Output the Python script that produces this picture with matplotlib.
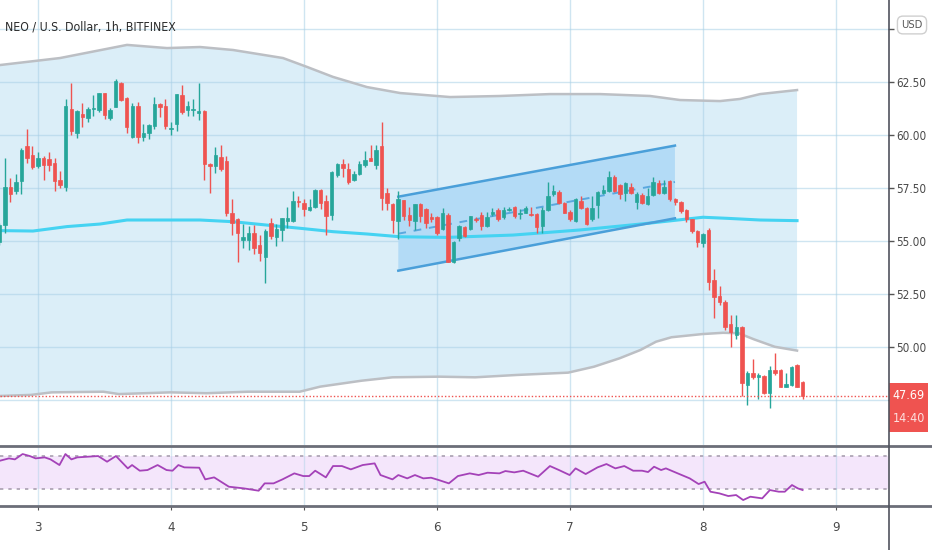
import numpy as np
import matplotlib
matplotlib.use('Agg')
import matplotlib.pyplot as plt
from matplotlib.patches import Rectangle
from matplotlib.lines import Line2D
from matplotlib import transforms

plt.rcParams['font.family'] = ['DejaVu Sans']
plt.rcParams['font.stretch'] = 'condensed'

# hourly candles, first one is 7 hours before day 3 00:00
opens = [
    54.95, 55.75, 57.56, 57.36, 57.83, 59.50, 59.06, 58.54, 58.90, 58.87,
    58.69, 57.88, 57.56, 61.21, 60.11, 61.00, 60.79, 61.22, 61.18, 61.97,
    60.80, 61.33, 62.47, 61.73, 59.92, 61.37, 59.89, 60.11, 60.42, 61.46,
    61.37, 60.28, 60.50, 61.90, 61.18, 61.19, 61.02, 61.15, 58.63, 58.55,
    58.98, 58.77, 56.31, 56.02, 55.05, 55.05, 55.36, 54.81, 54.23, 55.85,
    55.20, 55.52, 55.96, 55.96, 56.88, 56.81, 56.46, 56.62, 57.40, 56.90,
    56.23, 58.11, 58.62, 58.38, 57.88, 58.16, 58.58, 58.90, 58.58, 59.50,
    57.25, 56.75, 55.96, 56.93, 56.23, 55.96, 56.75, 56.50, 56.12, 56.15,
    55.55, 56.23, 54.02, 55.13, 55.65, 55.55, 56.05, 56.23, 55.71, 56.27,
    56.46, 56.12, 56.45, 56.59, 56.28, 56.34, 56.28, 56.27, 55.71, 56.46,
    57.20, 57.33, 56.81, 56.38, 55.92, 56.90, 56.54, 56.02, 56.70, 57.28,
    57.37, 58.04, 57.64, 57.28, 57.53, 56.85, 57.17, 56.74, 57.17, 57.75,
    57.28, 57.84, 57.00, 56.85, 56.46, 56.02, 55.49, 54.92, 55.52, 53.16,
    52.40, 52.14, 51.08, 50.57, 50.96, 48.21, 48.76, 48.57, 48.63, 47.84,
    48.91, 48.91, 48.13, 48.21, 49.16, 48.37]
closes = [
    55.75, 57.56, 57.20, 57.78, 59.30, 58.93, 58.50, 58.91, 58.60, 58.60,
    57.83, 57.64, 61.37, 60.19, 61.15, 60.86, 61.21, 61.28, 61.97, 60.94,
    61.20, 62.56, 61.65, 60.37, 61.37, 59.92, 60.11, 60.47, 61.46, 61.34,
    60.42, 60.33, 61.93, 61.10, 61.37, 61.23, 61.15, 58.63, 58.54, 59.06,
    58.40, 56.31, 55.86, 55.39, 55.20, 55.36, 54.65, 54.45, 55.49, 55.25,
    55.55, 56.10, 56.10, 56.90, 56.82, 56.50, 56.59, 57.40, 56.78, 56.18,
    58.27, 58.62, 58.43, 57.80, 58.16, 58.62, 58.82, 58.79, 59.29, 57.02,
    56.78, 55.99, 56.97, 56.18, 55.99, 56.75, 56.18, 55.87, 56.05, 55.39,
    56.34, 54.02, 54.97, 55.71, 55.24, 56.18, 55.97, 55.71, 56.15, 56.38,
    56.02, 56.46, 56.52, 56.18, 56.32, 56.54, 56.22, 55.65, 56.46, 57.13,
    57.35, 56.81, 56.34, 56.02, 57.00, 56.54, 55.80, 56.54, 57.29, 57.40,
    58.04, 57.37, 57.22, 57.72, 57.28, 57.22, 56.81, 57.12, 57.80, 57.28,
    57.56, 56.97, 56.85, 56.42, 56.02, 55.49, 54.97, 55.33, 53.08, 52.37,
    52.14, 50.96, 50.72, 50.93, 48.29, 48.79, 48.57, 48.68, 47.84, 48.91,
    48.79, 48.13, 48.25, 49.07, 48.13, 47.69]
highs = [
    55.85, 58.90, 57.97, 58.16, 59.40, 60.27, 59.50, 59.20, 59.00, 59.20,
    58.90, 58.30, 61.68, 62.47, 61.20, 61.50, 61.30, 61.89, 62.00, 62.00,
    61.25, 62.65, 62.50, 61.80, 61.50, 61.55, 60.50, 60.50, 61.81, 61.50,
    61.68, 60.60, 61.95, 62.36, 61.62, 61.70, 62.47, 61.20, 58.70, 59.45,
    59.53, 59.00, 56.97, 56.10, 55.80, 55.70, 55.75, 55.30, 55.55, 56.10,
    55.80, 56.10, 56.59, 57.37, 57.10, 57.00, 57.00, 57.45, 57.45, 57.15,
    58.30, 58.70, 58.85, 58.70, 58.30, 58.75, 59.25, 59.53, 59.55, 60.63,
    57.50, 56.80, 57.37, 56.95, 56.60, 56.75, 56.80, 56.55, 56.30, 56.20,
    56.55, 56.30, 55.00, 55.75, 55.70, 56.20, 56.15, 56.35, 56.35, 56.55,
    56.55, 56.60, 56.60, 56.65, 56.50, 56.65, 56.60, 56.30, 56.60, 57.80,
    57.65, 57.40, 56.85, 56.45, 57.05, 57.10, 56.60, 57.10, 57.35, 57.65,
    58.32, 58.10, 57.70, 57.80, 57.75, 57.30, 57.25, 57.50, 58.04, 57.90,
    57.90, 57.90, 57.05, 56.90, 56.50, 56.05, 55.50, 55.40, 55.60, 53.66,
    52.90, 52.20, 51.50, 51.50, 51.00, 48.85, 49.42, 48.75, 48.70, 49.10,
    49.73, 48.95, 48.75, 49.10, 49.20, 48.40]
lows = [
    54.80, 55.38, 56.85, 57.20, 57.20, 58.68, 58.40, 58.45, 57.88, 58.30,
    57.37, 57.50, 57.37, 60.00, 59.84, 60.40, 60.60, 60.90, 61.10, 60.74,
    60.70, 61.30, 61.60, 60.10, 59.85, 59.60, 59.70, 59.80, 60.30, 60.87,
    60.30, 59.98, 60.20, 61.00, 60.90, 60.90, 60.70, 57.88, 57.28, 58.19,
    58.30, 56.20, 55.28, 53.99, 54.65, 54.58, 54.40, 54.07, 53.00, 55.10,
    54.76, 55.00, 55.60, 55.90, 56.60, 56.20, 56.40, 56.55, 56.50, 55.28,
    56.00, 58.00, 58.00, 57.70, 57.85, 58.10, 58.50, 58.75, 58.40, 56.46,
    56.46, 55.36, 55.08, 56.00, 55.70, 55.50, 55.90, 55.60, 55.90, 55.30,
    55.50, 54.00, 53.95, 55.00, 55.20, 55.50, 55.90, 55.50, 55.65, 56.20,
    55.95, 56.05, 56.40, 56.10, 56.05, 56.30, 56.20, 55.40, 55.40, 56.40,
    57.10, 56.75, 56.30, 55.95, 55.90, 56.50, 55.75, 55.95, 56.10, 57.20,
    57.30, 57.30, 57.00, 56.90, 57.20, 56.50, 56.75, 56.70, 57.10, 57.20,
    57.20, 56.90, 56.70, 56.30, 55.90, 55.40, 54.70, 54.70, 52.69, 51.35,
    52.00, 50.80, 50.00, 50.40, 47.69, 47.26, 48.50, 47.53, 47.80, 47.10,
    48.70, 48.10, 48.10, 48.15, 48.10, 47.55]

# envelope bands (day of month, price)
upper_days = [2.714, 3.165, 3.669, 3.970, 4.218, 4.466, 4.842, 5.023, 5.218, 5.474,
              5.722, 6.098, 6.474, 6.850, 7.226, 7.602, 7.827, 8.128, 8.278, 8.429, 8.707]
upper_band = [63.30, 63.63, 64.25, 64.10, 64.15, 64.01, 63.63, 63.21, 62.74, 62.26,
              61.98, 61.79, 61.84, 61.93, 61.93, 61.84, 61.65, 61.60, 61.70, 61.93, 62.12]
lower_days = [2.714, 2.947, 3.103, 3.491, 3.608, 3.996, 4.268, 4.578, 4.967, 5.122,
              5.433, 5.666, 6.015, 6.287, 6.598, 6.986, 7.180, 7.374, 7.530, 7.647,
              7.763, 7.996, 8.151, 8.268, 8.384, 8.540, 8.707]
lower_band = [47.69, 47.74, 47.86, 47.89, 47.78, 47.86, 47.82, 47.89, 47.89, 48.13,
              48.41, 48.57, 48.60, 48.57, 48.68, 48.79, 49.07, 49.47, 49.86, 50.25,
              50.46, 50.61, 50.67, 50.65, 50.36, 50.01, 49.83]
mid_days = [2.714, 2.962, 3.218, 3.466, 3.669, 3.970, 4.218, 4.466, 4.722, 4.970,
            5.218, 5.474, 5.722, 6.075, 6.571, 7.075, 7.579, 8.000, 8.180, 8.429, 8.707]
mid_band = [55.49, 55.47, 55.68, 55.80, 55.99, 55.99, 55.99, 55.91, 55.75, 55.60,
            55.44, 55.33, 55.20, 55.17, 55.28, 55.52, 55.83, 56.12, 56.07, 55.99, 55.96]

# drawn parallel channel
chan_days = [5.709, 7.789]
chan_upper = [57.09, 59.50]
chan_lower = [53.60, 56.07]

# RSI
rsi_days = [2.714, 2.781, 2.826, 2.884, 2.938, 2.982, 3.050, 3.094, 3.161, 3.206,
            3.251, 3.295, 3.452, 3.519, 3.586, 3.675, 3.707, 3.765, 3.823, 3.899,
            3.966, 4.011, 4.055, 4.100, 4.212, 4.257, 4.324, 4.435, 4.547, 4.659,
            4.704, 4.771, 4.838, 4.927, 4.994, 5.039, 5.084, 5.164, 5.218, 5.285,
            5.352, 5.441, 5.531, 5.575, 5.665, 5.709, 5.776, 5.834, 5.897, 5.955,
            6.013, 6.089, 6.157, 6.246, 6.313, 6.380, 6.469, 6.514, 6.581, 6.648,
            6.760, 6.849, 6.917, 6.997, 7.042, 7.118, 7.207, 7.274, 7.341, 7.408,
            7.475, 7.542, 7.587, 7.632, 7.685, 7.721, 7.810, 7.900, 7.967, 8.012,
            8.056, 8.123, 8.190, 8.249, 8.302, 8.356, 8.445, 8.503, 8.570, 8.615,
            8.669, 8.713, 8.749]
rsi_vals = [64.0, 66.8, 65.6, 72.0, 69.6, 66.8, 68.0, 65.6, 58.8, 72.0,
            65.6, 68.0, 69.6, 62.8, 69.6, 54.8, 58.8, 52.0, 52.8, 58.8,
            52.8, 52.0, 58.8, 56.0, 55.6, 41.6, 44.0, 32.8, 30.8, 28.0,
            36.8, 36.8, 41.6, 48.8, 45.6, 45.6, 52.0, 44.0, 57.6, 57.6,
            53.6, 58.8, 60.8, 46.8, 41.6, 46.8, 42.8, 46.8, 42.8, 43.6,
            40.8, 36.8, 45.6, 48.8, 46.8, 49.6, 48.8, 51.6, 50.0, 52.0,
            44.8, 57.6, 52.8, 46.8, 54.8, 48.0, 56.0, 60.0, 54.8, 57.6,
            52.0, 52.0, 50.4, 56.8, 52.8, 54.8, 48.8, 42.8, 36.0, 38.8,
            26.8, 24.8, 21.6, 22.8, 16.8, 20.8, 18.8, 28.8, 26.8, 26.8,
            34.8, 30.8, 28.8]

day_ticks = [3, 4, 5, 6, 7, 8, 9]
price_ticks = [47.5, 50.0, 52.5, 55.0, 57.5, 60.0, 62.5, 65.0]
price_labels = ['', '50.00', '52.50', '55.00', '57.50', '60.00', '62.50', '']

UP = '#26a69a'
DOWN = '#ef5350'
W, H = 932, 550

opens = np.array(opens)
closes = np.array(closes)
hours = np.arange(len(closes)) - 7
days = 3 + hours / 24.0
cols = np.where(closes >= opens, UP, DOWN)

fig = plt.figure(figsize=(W / 100, H / 100), dpi=100)
ax = fig.add_axes([0, 105 / H, 888 / W, 445 / H])
rax = fig.add_axes([0, 44 / H, 888 / W, 59 / H])

xlim = (2.714, 9.391)

# ---- main panel
ax.fill(upper_days + lower_days[::-1], upper_band + lower_band[::-1],
        color='#dbeef8', lw=0, zorder=1)
ax.plot(upper_days, upper_band, color='#bcbfc4', lw=1.8, zorder=3)
ax.plot(lower_days, lower_band, color='#bcbfc4', lw=1.8, zorder=3)
ax.plot(mid_days, mid_band, color='#45d3f2', lw=2.2, zorder=3)

ax.fill([chan_days[0], chan_days[1], chan_days[1], chan_days[0]],
        [chan_upper[0], chan_upper[1], chan_lower[1], chan_lower[0]],
        color='#b3dbf6', lw=0, zorder=2)
ax.plot(chan_days, chan_upper, color='#4a9fd9', lw=1.8, zorder=3)
ax.plot(chan_days, chan_lower, color='#4a9fd9', lw=1.8, zorder=3)
ax.plot(chan_days, [(a + b) / 2 for a, b in zip(chan_upper, chan_lower)],
        color='#5aa8df', lw=1.4, ls=(0, (4, 4)), zorder=3)

ax.vlines(days, lows, highs, colors=cols, lw=1, zorder=4)
ax.bar(days, closes - opens, bottom=opens, width=0.026, color=cols,
       edgecolor=cols, lw=0.5, zorder=5)

ax.axhline(closes[-1], color=DOWN, ls=(0, (1, 1.5)), lw=1, zorder=6)

ax.set_xlim(*xlim)
ax.set_ylim(45.377, 66.368)
ax.set_xticks(day_ticks)
ax.set_yticks(price_ticks)
ax.set_yticklabels(price_labels)
ax.yaxis.tick_right()
ax.set_axisbelow('line')
ax.grid(True, color='#a9d0e6', lw=1, alpha=0.55)
ax.tick_params(axis='x', length=0, labelbottom=False)
ax.tick_params(axis='y', length=4, width=1, color='#555555', pad=2,
               labelsize=8.5, labelcolor='#4a4a4a')
for s in ax.spines.values():
    s.set_visible(False)

# ---- RSI panel
rax.axhspan(30, 70, color='#f4e6fb', lw=0, zorder=0)
rax.axhline(70, color='#a9a0b0', lw=1.2, ls=(0, (2, 3)), zorder=1)
rax.axhline(30, color='#a9a0b0', lw=1.2, ls=(0, (2, 3)), zorder=1)
rax.plot(rsi_days, rsi_vals, color='#a442b8', lw=1.3, zorder=3)
rax.set_xlim(*xlim)
rax.set_ylim(9.65, 80.45)
rax.set_xticks(day_ticks)
rax.set_xticklabels([str(d) for d in day_ticks])
rax.set_yticks([])
rax.grid(True, axis='x', color='#a9d0e6', lw=1, alpha=0.45)
rax.tick_params(axis='x', length=3, color='#555555', pad=8,
                labelsize=9.5, labelcolor='#4a4a4a')
for s in rax.spines.values():
    s.set_visible(False)

# separators and price axis line
fig.add_artist(Line2D([0, 1], [1 - 445.5 / H] * 2, color='#6b6e78', lw=2))
fig.add_artist(Line2D([0, 1], [1 - 506 / H] * 2, color='#6b6e78', lw=2))
fig.add_artist(Line2D([888.5 / W] * 2, [0, 1], color='#50535e', lw=1.2))

# last price label
tr = transforms.blended_transform_factory(fig.transFigure, ax.transData)
last = closes[-1]
fig.add_artist(Rectangle((889 / W, last - 1.70), 39 / W, 2.31, transform=tr,
                         color=DOWN, lw=0))
fig.text(908.5 / W, last, f'{last:.2f}', transform=tr, ha='center', va='center',
         color='white', fontsize=9)
fig.text(908.5 / W, last - 1.04, '14:40', transform=tr, ha='center', va='center',
         color='#fde0df', fontsize=9)

fig.text(912 / W, 1 - 25 / H, 'USD', ha='center', va='center', fontsize=8,
         color='#555555',
         bbox=dict(boxstyle='round,pad=0.35,rounding_size=0.5', fc='white',
                   ec='#cfcfcf', lw=1))

fig.text(5 / W, 1 - 27 / H, 'NEO / U.S. Dollar, 1h, BITFINEX', ha='left',
         va='center', fontsize=8.8, color='#2a2a2a')

fig.savefig('out.png', dpi=100)
